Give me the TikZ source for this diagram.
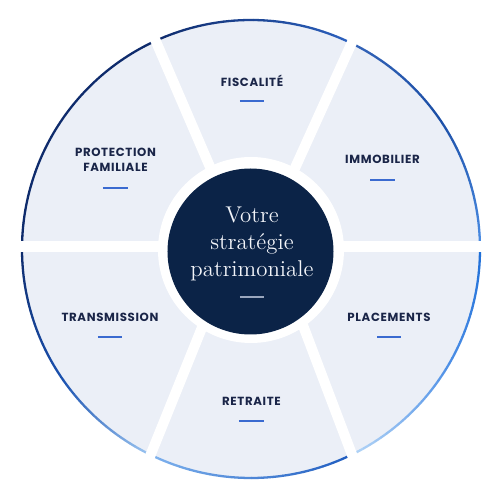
\documentclass[tikz,border=0pt]{standalone}
\usepackage{fontspec}
\newfontfamily\labfont{Poppins}[LetterSpace=5.5]
\definecolor{sectfill}{HTML}{EBEFF7}
\definecolor{navy}{HTML}{0B2347}
\definecolor{labtext}{HTML}{1A2548}
\definecolor{ulblue}{HTML}{3A6AD0}
\definecolor{coretext}{HTML}{F2F4F9}
\definecolor{coreline}{HTML}{9AA6BD}
\definecolor{bA}{HTML}{0E2B6C}
\definecolor{bB}{HTML}{1B4EA6}
\definecolor{bC}{HTML}{4D8FE6}
\definecolor{bD}{HTML}{3464B8}
\definecolor{bE}{HTML}{9CC6F2}
\definecolor{bF}{HTML}{7FB3EE}
\definecolor{bG}{HTML}{1F5CC0}
\definecolor{bH}{HTML}{B5D6F7}
\definecolor{bI}{HTML}{1F6FD8}
\definecolor{bJ}{HTML}{1B52B0}
\definecolor{bK}{HTML}{2D62C0}
\newcommand{\gradarc}[4]{%
  \foreach \gi in {0,...,19}{%
    \pgfmathsetmacro{\gaS}{#1+(#2-#1)*\gi/20}%
    \pgfmathsetmacro{\gaE}{#1+(#2-#1)*(\gi+1)/20}%
    \pgfmathsetmacro{\gaP}{100-100*(\gi+0.5)/20}%
    \draw[bordline, draw=#3!\gaP!#4] (\gaS:229) arc[start angle=\gaS, end angle=\gaE, radius=229];
  }}
\begin{document}
\begin{tikzpicture}[x=0.02cm,y=0.02cm,
  bordline/.style={line width=1.3pt, line cap=round},
  gapline/.style={draw=white, line width=5.8pt},
  lab/.style={font=\labfont\bfseries\fontsize{6.7}{8.6}\selectfont, text=labtext, anchor=base, align=center, inner sep=0pt},
  uline/.style={draw=ulblue, line width=0.8pt},
  coretxt/.style={font=\fontsize{13}{15.4}\selectfont, text=coretext, anchor=base, align=center, inner sep=0pt}]
\useasboundingbox (-251,-251) rectangle (249,249);
\fill[white] (-251,-251) rectangle (249,249);
% disk
\fill[sectfill] (0,0) circle[radius=229];
% borders per sector
\gradarc{0}{35}{bC}{bB}
\gradarc{35}{64}{bB}{bD}
\gradarc{64}{114.6}{bK}{bA}
\gradarc{114.6}{180}{bA}{bA}
\gradarc{180}{215}{bA}{bJ}
\gradarc{215}{244}{bJ}{bE}
\gradarc{244}{296.2}{bF}{bG}
\gradarc{296.2}{330}{bH}{bC}
\gradarc{330}{360}{bC}{bI}
% gaps
\coordinate (g1o) at (-108.6,239); \coordinate (g1i) at (-37.5,74);
\coordinate (g2o) at (114.9,237.3); \coordinate (g2i) at (41.6,75.7);
\coordinate (g3o) at (-112.6,-236); \coordinate (g3i) at (-44.6,-67.7);
\coordinate (g4o) at (112.1,-235); \coordinate (g4i) at (48.7,-67.7);
\coordinate (g5o) at (-245,2.5); \coordinate (g6o) at (245,2.5);
\draw[gapline] (g1i) -- (g1o);
\draw[gapline] (g2i) -- (g2o);
\draw[gapline] (g3i) -- (g3o);
\draw[gapline] (g4i) -- (g4o);
\draw[gapline] (g5o) -- (g6o);
\fill[white] (0,-1) circle[radius=93];
\fill[navy] (-0.5,-2.5) circle[radius=83];
% center
\node[coretxt] (core) at (1,-28) {Votre\\strat\'egie\\patrimoniale};
\draw[coreline, line width=0.85pt] (-11,-48) -- (13,-48);
% labels
\node[lab] (fisc) at (1,162) {FISCALITÉ};
\node[lab] (prot) at (-135.5,77) {PROTECTION\\FAMILIALE};
\node[lab] (immo) at (131.5,85) {IMMOBILIER};
\node[lab] (trans) at (-141,-72) {TRANSMISSION};
\node[lab] (plac) at (138,-72) {PLACEMENTS};
\node[lab] (retr) at (0.5,-156) {RETRAITE};
\draw[uline] (-11,148) -- (13,148);
\draw[uline] (-148,61) -- (-123,61);
\draw[uline] (119,69) -- (144,69);
\draw[uline] (-153,-88) -- (-129,-88);
\draw[uline] (126,-88) -- (150,-88);
\draw[uline] (-12,-172) -- (13,-172);
\end{tikzpicture}
\end{document}
